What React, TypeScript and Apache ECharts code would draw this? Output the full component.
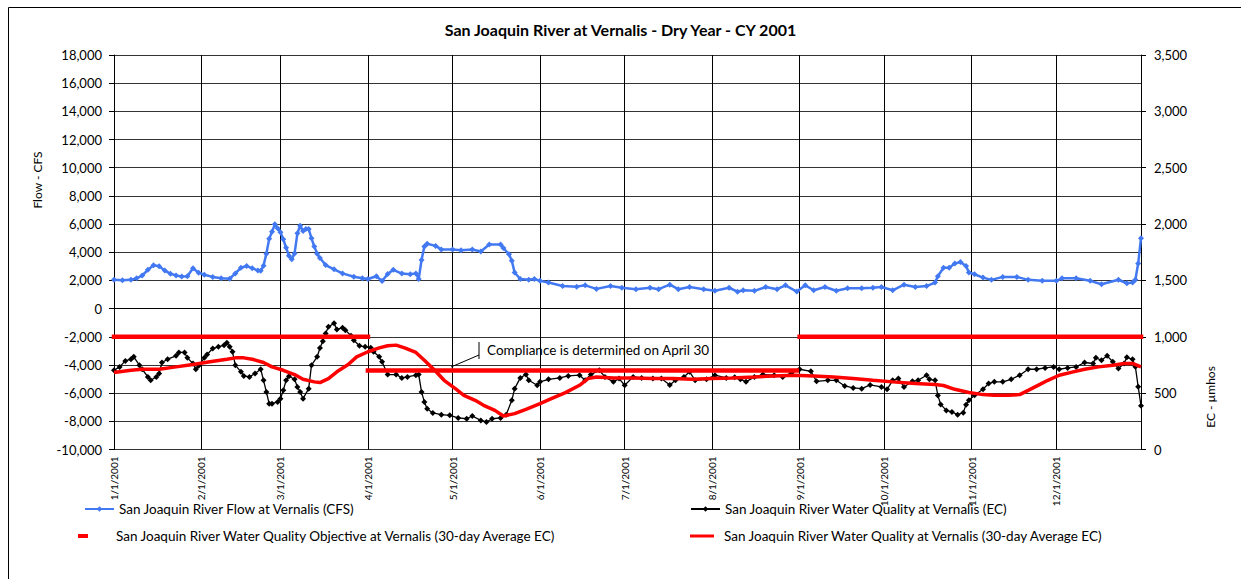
import React, { useEffect, useRef } from "react";
import * as echarts from "echarts";

const YEAR = 2001;
const monthLengths = [31, 28, 31, 30, 31, 30, 31, 31, 30, 31, 30, 31];
const dateCategories: string[] = [];
monthLengths.forEach((len, m) => {
  for (let d = 1; d <= len; d++) dateCategories.push(`${m + 1}/${d}/${YEAR}`);
});

const TITLE = "San Joaquin River at Vernalis - Dry Year - CY 2001";
const NAME_FLOW = "San Joaquin River Flow at Vernalis (CFS)";
const NAME_EC = "San Joaquin River Water Quality at Vernalis (EC)";
const NAME_OBJ = "San Joaquin River Water Quality Objective at Vernalis (30-day Average EC)";
const NAME_AVG = "San Joaquin River Water Quality at Vernalis (30-day Average EC)";
const NOTE = "Compliance is determined on April 30";

// [day index from 1/1, flow CFS]
const flowData: [number, number][] = [
  [0, 2050], [3, 2020], [6, 2040], [8, 2150], [10, 2350], [12, 2750], [14, 3080], [16, 3000], [18, 2700], [20, 2480],
  [22, 2350], [24, 2270], [26, 2300], [28, 2870], [30, 2550], [32, 2400], [35, 2250], [38, 2150], [41, 2120], [43, 2500],
  [45, 2900], [47, 3020], [49, 2870], [51, 2700], [52, 2680], [53, 3050], [54, 3900], [55, 4950], [56, 5450], [57, 5980],
  [58, 5700], [59, 5420], [60, 4920], [61, 4320], [62, 3760], [63, 3500], [64, 3920], [65, 5340], [66, 5880], [67, 5500],
  [68, 5650], [69, 5650], [70, 4990], [71, 4400], [72, 3900], [73, 3590], [75, 3090], [78, 2790], [81, 2500], [85, 2260],
  [88, 2150], [90, 2100], [93, 2300], [95, 1960], [97, 2450], [99, 2750], [102, 2490], [105, 2440], [107, 2500], [108, 2100],
  [109, 3450], [110, 4400], [111, 4600], [114, 4450], [116, 4200], [120, 4200], [123, 4150], [127, 4200], [130, 4050], [133, 4550],
  [137, 4550], [138, 4300], [140, 3860], [141, 3390], [142, 2560], [144, 2100], [147, 2050], [149, 2100], [151, 1970], [154, 1850],
  [159, 1610], [164, 1560], [167, 1650], [171, 1400], [176, 1600], [180, 1480], [185, 1380], [190, 1480], [193, 1380], [197, 1700],
  [200, 1380], [204, 1530], [209, 1380], [213, 1270], [218, 1480], [221, 1200], [223, 1300], [227, 1260], [231, 1530], [235, 1380],
  [238, 1650], [242, 1210], [245, 1650], [248, 1300], [252, 1530], [256, 1270], [260, 1440], [265, 1440], [269, 1480], [272, 1530],
  [276, 1300], [280, 1700], [284, 1540], [288, 1600], [291, 1850], [292, 2300], [294, 2900], [296, 2900], [298, 3200], [300, 3300],
  [302, 3030], [303, 2560], [305, 2440], [308, 2200], [311, 2040], [315, 2250], [320, 2250], [324, 2040], [329, 1970], [334, 1970],
  [336, 2150], [341, 2150], [346, 1970], [350, 1730], [356, 2050], [359, 1800], [361, 1850], [362, 2050], [363, 3200], [364, 5000],
];

// [day index, EC µmhos]
const ecData: [number, number][] = [
  [0, 703], [2, 733], [4, 786], [6, 801], [7, 822], [9, 748], [10, 712], [12, 644], [13, 614], [15, 644],
  [16, 674], [17, 772], [19, 801], [22, 831], [23, 861], [25, 861], [26, 813], [28, 763], [29, 712], [30, 742],
  [32, 813], [33, 843], [35, 896], [37, 911], [39, 926], [40, 947], [41, 911], [42, 867], [43, 748], [45, 689],
  [46, 653], [48, 644], [50, 674], [52, 712], [53, 614], [54, 511], [55, 407], [56, 407], [58, 422], [59, 451],
  [60, 525], [61, 614], [62, 650], [64, 623], [65, 555], [66, 511], [67, 451], [69, 540], [70, 748], [72, 822],
  [73, 900], [74, 960], [75, 1030], [76, 1089], [78, 1119], [79, 1065], [81, 1080], [82, 1059], [84, 1009], [85, 970],
  [87, 920], [89, 911], [91, 902], [92, 867], [94, 822], [95, 778], [97, 665], [100, 665], [102, 635], [104, 644],
  [107, 659], [108, 665], [109, 511], [110, 422], [111, 362], [113, 324], [116, 309], [119, 303], [122, 280], [125, 273],
  [127, 297], [130, 258], [132, 244], [134, 273], [137, 280], [139, 309], [141, 436], [142, 540], [144, 635], [146, 665],
  [147, 614], [150, 570], [151, 600], [154, 623], [158, 635], [161, 653], [165, 659], [167, 614], [169, 665], [172, 703],
  [174, 644], [177, 600], [179, 629], [181, 570], [184, 644], [187, 635], [191, 629], [194, 629], [197, 573], [199, 614],
  [202, 644], [204, 689], [206, 614], [210, 623], [213, 659], [217, 635], [220, 640], [222, 623], [224, 600], [227, 644],
  [230, 665], [234, 659], [237, 644], [240, 674], [243, 712], [247, 694], [249, 605], [253, 614], [256, 614], [259, 564],
  [262, 546], [265, 540], [268, 573], [272, 555], [274, 534], [276, 614], [278, 629], [280, 555], [283, 605], [285, 614],
  [288, 659], [289, 623], [291, 614], [292, 480], [293, 400], [295, 347], [297, 333], [299, 309], [301, 327], [302, 398],
  [303, 436], [305, 481], [308, 534], [310, 585], [312, 600], [315, 600], [318, 623], [321, 659], [324, 712], [327, 712],
  [330, 724], [333, 733], [335, 712], [338, 724], [341, 733], [344, 772], [347, 763], [348, 813], [350, 792], [352, 831],
  [354, 778], [356, 718], [358, 763], [359, 818], [361, 800], [362, 735], [363, 557], [364, 389],
];

// [day index, 30-day average EC]
const avgData: [number, number][] = [
  [0, 683], [6, 703], [10, 712], [16, 712], [22, 733], [28, 754], [34, 778], [40, 801], [43, 813], [46, 813],
  [49, 801], [53, 772], [56, 733], [60, 703], [64, 665], [67, 623], [71, 600], [73, 594], [76, 629], [79, 689],
  [83, 754], [86, 822], [90, 867], [94, 902], [97, 920], [100, 926], [103, 902], [107, 861], [110, 792], [114, 694],
  [117, 614], [121, 540], [124, 481], [128, 436], [131, 392], [135, 347], [138, 297], [142, 318], [146, 356], [151, 407],
  [155, 451], [160, 505], [165, 570], [168, 629], [171, 644], [177, 635], [184, 635], [191, 629], [198, 629], [205, 623],
  [212, 629], [219, 635], [227, 644], [234, 653], [241, 659], [248, 653], [255, 644], [262, 629], [269, 614], [276, 600],
  [284, 585], [291, 576], [294, 568], [298, 534], [303, 505], [308, 487], [312, 481], [317, 481], [321, 487], [324, 525],
  [328, 576], [331, 614], [335, 659], [340, 689], [344, 712], [349, 733], [354, 748], [358, 763], [361, 763], [364, 733],
];

// Objective segments
const objStart = [0, 90, 243];
const objEnd = [90, 242, 364];
const objValue = [1000, 700, 1000];

const FONT = "Lato, 'Open Sans', sans-serif";
const BLUE = "#4279F2";
const RED = "#FF0000";

const isMonthStart = (_i: number, v: string) => v.split("/")[1] === "1";

export default function App() {
  const ref = useRef<HTMLDivElement>(null);
  useEffect(() => {
    if (!ref.current) return;
    const chart = echarts.init(ref.current, undefined, { renderer: "svg" });
    const objSeries = objStart.map((s, i) => ({
      name: NAME_OBJ,
      type: "line",
      yAxisIndex: 1,
      data: [
        [s, objValue[i]],
        [objEnd[i], objValue[i]],
      ],
      symbol: "none",
      color: RED,
      lineStyle: { color: RED, width: 4.5, cap: "square" },
      z: 3,
    }));
    const legendText = { fontSize: 13.5, fontFamily: FONT, color: "#000" };
    chart.setOption({
      animation: false,
      textStyle: { fontFamily: FONT },
      title: {
        text: TITLE,
        left: "center",
        top: 16,
        textStyle: { fontSize: 16, fontWeight: "bold", color: "#000", fontFamily: FONT },
      },
      grid: { left: 114, right: 100, top: 55, bottom: 129.5 },
      legend: [
        { data: [NAME_FLOW], left: 84, top: 502, padding: 0, itemWidth: 29, itemHeight: 7, textStyle: legendText },
        { data: [NAME_EC], left: 690, top: 502, padding: 0, itemWidth: 29, itemHeight: 7, textStyle: legendText },
        {
          data: [NAME_OBJ], left: 78, top: 529, padding: 0, itemWidth: 10, itemHeight: 4, icon: "rect",
          textStyle: { ...legendText, padding: [0, 0, 0, 23] },
        },
        {
          data: [{ name: NAME_AVG, icon: "rect" }], left: 690, top: 529, padding: 0, itemWidth: 24, itemHeight: 3,
          textStyle: { ...legendText, padding: [0, 0, 0, 5] },
        },
      ],
      xAxis: {
        type: "category",
        data: dateCategories,
        boundaryGap: false,
        axisLine: { lineStyle: { color: "#000", width: 1 } },
        axisTick: { show: true, interval: isMonthStart, length: 4, lineStyle: { color: "#000" } },
        axisLabel: { interval: isMonthStart, rotate: 90, fontSize: 10, color: "#000", margin: 7, fontFamily: FONT },
        splitLine: { show: true, interval: isMonthStart, lineStyle: { color: "#000", width: 1 } },
      },
      yAxis: [
        {
          type: "value",
          min: -10000,
          max: 18000,
          interval: 2000,
          axisLine: { show: true, lineStyle: { color: "#000" } },
          axisTick: { show: true, length: 5, lineStyle: { color: "#000" } },
          axisLabel: { fontSize: 13, color: "#000", margin: 12, fontFamily: FONT },
          splitLine: { show: true, lineStyle: { color: "#333", width: 1 } },
        },
        {
          type: "value",
          min: 0,
          max: 3500,
          interval: 500,
          position: "right",
          axisLine: { show: true, lineStyle: { color: "#000" } },
          axisTick: { show: true, length: 5, lineStyle: { color: "#000" } },
          axisLabel: { fontSize: 13, color: "#000", margin: 13, fontFamily: FONT },
          splitLine: { show: false },
        },
      ],
      series: [
        {
          name: NAME_FLOW,
          type: "line",
          yAxisIndex: 0,
          data: flowData,
          color: BLUE,
          symbol: "diamond",
          symbolSize: 6,
          showSymbol: true,
          showAllSymbol: true,
          lineStyle: { color: BLUE, width: 2.5 },
          itemStyle: { color: BLUE },
          z: 2,
        },
        {
          name: NAME_EC,
          type: "line",
          yAxisIndex: 1,
          data: ecData,
          color: "#000",
          symbol: "diamond",
          symbolSize: 6,
          showSymbol: true,
          showAllSymbol: true,
          lineStyle: { color: "#000", width: 1.3 },
          itemStyle: { color: "#000" },
          z: 2,
        },
        ...objSeries,
        {
          name: NAME_AVG,
          type: "line",
          yAxisIndex: 1,
          data: avgData,
          color: RED,
          symbol: "none",
          lineStyle: { color: RED, width: 3.5 },
          z: 4,
        },
      ],
      graphic: [
        {
          type: "rect",
          shape: { x: 8.5, y: 7.5, width: 1250, height: 600 },
          style: { fill: "none", stroke: "#000", lineWidth: 1 },
          silent: true,
          z: -10,
        },
        {
          type: "text",
          x: 37,
          y: 180,
          rotation: Math.PI / 2,
          style: { text: "Flow - CFS", fontSize: 12, fontFamily: FONT, fill: "#000", align: "center", verticalAlign: "middle" },
        },
        {
          type: "text",
          x: 1210,
          y: 397,
          rotation: Math.PI / 2,
          style: { text: "EC - µmhos", fontSize: 12, fontFamily: FONT, fill: "#000", align: "center", verticalAlign: "middle" },
        },
        {
          type: "line",
          shape: { x1: 479, y1: 342, x2: 479, y2: 359 },
          style: { stroke: "#000", lineWidth: 1 },
          z: 10,
        },
        {
          type: "line",
          shape: { x1: 479, y1: 355, x2: 451, y2: 367 },
          style: { stroke: "#000", lineWidth: 1 },
          z: 10,
        },
        {
          type: "text",
          x: 487,
          y: 350,
          style: { text: NOTE, fontSize: 13.5, fontFamily: FONT, fill: "#000", align: "left", verticalAlign: "middle" },
          z: 10,
        },
      ],
    });
    return () => chart.dispose();
  }, []);
  return <div ref={ref} style={{ position: "fixed", left: 0, top: 0, width: 1241, height: 579, background: "#fff" }} />;
}
